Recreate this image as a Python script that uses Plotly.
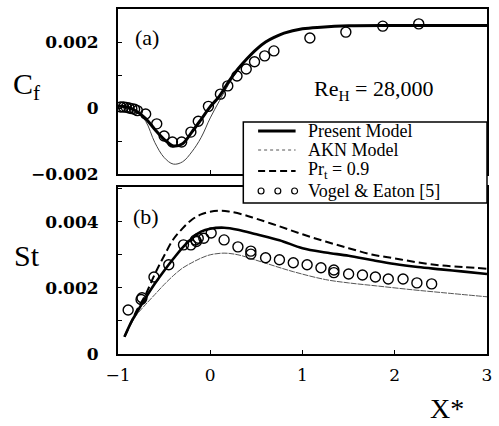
import plotly.graph_objects as go

# ---------------- data ----------------
# Panel (a): skin friction Cf vs X*
cf_present_x = [-1, -0.9, -0.8, -0.7, -0.6, -0.5, -0.4, -0.3, -0.2, -0.1, 0, 0.1, 0.2, 0.3, 0.4,
                0.5, 0.6, 0.7, 0.8, 1.0, 1.2, 1.5, 2.0, 2.5, 3.0]
cf_present_y = [0.00005, 0.00003, -0.0001, -0.00032, -0.00065, -0.00095, -0.00115, -0.00108,
                -0.00073, -0.00035, 0.00004, 0.00036, 0.0008, 0.00118, 0.0015, 0.00178, 0.002,
                0.00215, 0.00227, 0.0024, 0.00245, 0.00249, 0.0025, 0.0025, 0.0025]

cf_akn_x = [-1, -0.9, -0.8, -0.7, -0.6, -0.5, -0.4, -0.3, -0.2, -0.1, 0, 0.1, 0.2, 0.3, 0.4,
            0.5, 0.6, 0.7, 0.8, 1.0, 1.2, 1.5, 2.0, 2.5, 3.0]
cf_akn_y = [0.00005, 0.00002, -0.0001, -0.0004, -0.00105, -0.0015, -0.0017, -0.00163,
            -0.00133, -0.0009, -0.0003, 0.00022, 0.00072, 0.00115, 0.00148, 0.00178, 0.002,
            0.00215, 0.00227, 0.0024, 0.00245, 0.00249, 0.0025, 0.0025, 0.0025]

cf_exp_x = [-0.97, -0.94, -0.91, -0.88, -0.85, -0.82, -0.79, -0.70, -0.58, -0.50, -0.41, -0.31,
            -0.21, -0.13, -0.02, 0.11, 0.19, 0.29, 0.39, 0.48, 0.59, 0.69, 1.08, 1.47, 1.87, 2.26]
cf_exp_y = [0.00003, 0.00003, 0.00002, 0.0, -0.00002, -0.00004, -0.00008, -0.00018, -0.00048,
            -0.00085, -0.00103, -0.00103, -0.00073, -0.0004, 0.00005, 0.00042, 0.00067, 0.00097,
            0.00118, 0.0014, 0.00158, 0.00173, 0.00212, 0.0023, 0.00248, 0.00255]

# Panel (b): Stanton number St vs X*
st_present_x = [-0.93, -0.85, -0.8, -0.7, -0.6, -0.5, -0.4, -0.3, -0.2, -0.1, 0, 0.15, 0.3, 0.5,
                0.75, 1.0, 1.25, 1.5, 1.75, 2.0, 2.25, 2.5, 2.75, 3.0]
st_present_y = [0.00052, 0.001, 0.00124, 0.0017, 0.00213, 0.00252, 0.00288, 0.00322, 0.00349,
                0.0037, 0.00379, 0.00382, 0.00376, 0.00362, 0.00344, 0.0032, 0.00307, 0.00297,
                0.00284, 0.00272, 0.00263, 0.00256, 0.00249, 0.00242]

st_prt_x = [-0.93, -0.85, -0.8, -0.7, -0.6, -0.5, -0.4, -0.3, -0.2, -0.1, 0, 0.1, 0.2, 0.35,
            0.5, 0.75, 1.0, 1.25, 1.5, 1.75, 2.0, 2.25, 2.5, 2.75, 3.0]
st_prt_y = [0.00052, 0.001, 0.0013, 0.0018, 0.00242, 0.00297, 0.00347, 0.0038, 0.00406, 0.00422,
            0.0043, 0.00433, 0.00431, 0.00422, 0.00409, 0.00386, 0.00362, 0.0034, 0.0032,
            0.00301, 0.00289, 0.00277, 0.00268, 0.00263, 0.00258]

st_akn_x = [-0.93, -0.85, -0.8, -0.7, -0.6, -0.5, -0.4, -0.3, -0.2, -0.1, 0, 0.15, 0.3, 0.55,
            0.9, 1.25, 1.5, 1.8, 2.2, 2.5, 3.0]
st_akn_y = [0.00052, 0.00095, 0.00118, 0.0015, 0.0018, 0.0021, 0.00237, 0.0026, 0.00276, 0.0029,
            0.003, 0.00305, 0.003, 0.00279, 0.00249, 0.00225, 0.00215, 0.00206, 0.00194,
            0.00186, 0.00173]

st_exp_x = [-0.89, -0.74, -0.75, -0.61, -0.45, -0.29, -0.21, -0.16, -0.15, -0.13, -0.07, 0.01,
            0.15, 0.30, 0.44, 0.44, 0.60, 0.75, 0.90, 1.05, 1.20, 1.34, 1.34, 1.50, 1.65, 1.79,
            1.93, 2.09, 2.24, 2.40]
st_exp_y = [0.00133, 0.0017, 0.00165, 0.00233, 0.0027, 0.0033, 0.0033, 0.00345, 0.0034, 0.0035,
            0.0035, 0.00366, 0.00345, 0.00324, 0.00311, 0.00302, 0.00291, 0.00285, 0.00276,
            0.0027, 0.00261, 0.00254, 0.00246, 0.00242, 0.00239, 0.00233, 0.00227, 0.00227,
            0.00215, 0.00212]

cf_tickvals = [-0.002, 0, 0.002]
cf_ticktext = ["\u22120.002", "0", "0.002"]
st_tickvals = [0, 0.002, 0.004]
st_ticktext = ["0", "0.002", "0.004"]
x_tickvals = [-1, 0, 1, 2, 3]
x_ticktext = ["\u22121", "0", "1", "2", "3"]

legend_labels = ["Present Model", "AKN Model", "Pr<sub>t</sub> = 0.9", "Vogel &amp; Eaton [5]"]

# ---------------- layout helpers ----------------
W, H = 499, 426
PLOT_L, PLOT_R, PLOT_T, PLOT_B = 118, 492, 9, 354        # reference pixels
L, T = PLOT_L, PLOT_T
R = W - PLOT_R
B = H - PLOT_B
PW, PH = W - L - R, H - T - B


def px(x):
    return (x - PLOT_L) / PW


def py(y):
    return (PLOT_B - y) / PH


SERIF = "Liberation Serif"
BLACK = "black"

fig = go.Figure()

# panel (a)
fig.add_trace(go.Scatter(x=cf_akn_x, y=cf_akn_y, mode="lines", xaxis="x", yaxis="y",
                         line=dict(color="#444", width=1, shape="spline"), showlegend=False))
fig.add_trace(go.Scatter(x=cf_present_x, y=cf_present_y, mode="lines", xaxis="x", yaxis="y",
                         line=dict(color=BLACK, width=3, shape="spline"), showlegend=False))
fig.add_trace(go.Scatter(x=cf_exp_x, y=cf_exp_y, mode="markers", xaxis="x", yaxis="y",
                         marker=dict(symbol="circle-open", size=10, color=BLACK,
                                     line=dict(width=1.4, color=BLACK)), showlegend=False))

# panel (b)
fig.add_trace(go.Scatter(x=st_akn_x, y=st_akn_y, mode="lines", xaxis="x2", yaxis="y2",
                         line=dict(color="#555", width=1, shape="spline", dash="6px,1px"),
                         showlegend=False))
fig.add_trace(go.Scatter(x=st_prt_x, y=st_prt_y, mode="lines", xaxis="x2", yaxis="y2",
                         line=dict(color=BLACK, width=2, shape="spline", dash="8px,4px"),
                         showlegend=False))
fig.add_trace(go.Scatter(x=st_present_x, y=st_present_y, mode="lines", xaxis="x2", yaxis="y2",
                         line=dict(color=BLACK, width=2.6, shape="spline"), showlegend=False))
fig.add_trace(go.Scatter(x=st_exp_x, y=st_exp_y, mode="markers", xaxis="x2", yaxis="y2",
                         marker=dict(symbol="circle-open", size=10, color=BLACK,
                                     line=dict(width=1.4, color=BLACK)), showlegend=False))

axis_common = dict(showgrid=False, zeroline=False, showline=True, linecolor=BLACK, linewidth=2,
                   mirror=True, ticks="inside", tickcolor=BLACK, ticklen=4, tickwidth=1)

ytick_font = dict(family="DejaVu Serif", size=17, color=BLACK, weight="bold")
xtick_font = dict(family="DejaVu Serif", size=17, color=BLACK)

fig.update_layout(
    width=W, height=H,
    margin=dict(l=L, r=R, t=T, b=B, pad=0),
    paper_bgcolor="white", plot_bgcolor="white",
    showlegend=False,
    hovermode=False,
    xaxis=dict(domain=[0, 1], range=[-1, 3], anchor="y", tickvals=x_tickvals,
               showticklabels=False, **axis_common),
    yaxis=dict(domain=[py(174), 1], range=[-0.002, 0.003], anchor="x",
               tickvals=cf_tickvals, ticktext=cf_ticktext, tickfont=ytick_font,
               ticklabelstandoff=14,
               minor=dict(tickmode="linear", tick0=0, dtick=0.001, ticks="inside", ticklen=4,
                          tickcolor=BLACK), **axis_common),
    xaxis2=dict(domain=[0, 1], range=[-1, 3], anchor="y2", tickvals=x_tickvals,
                ticktext=x_ticktext, tickfont=xtick_font, ticklabelstandoff=5,
                ticklabeloverflow="allow", **axis_common),
    yaxis2=dict(domain=[0, py(187)], range=[0, 0.00505], anchor="x2",
                tickvals=st_tickvals, ticktext=st_ticktext, tickfont=ytick_font,
                ticklabelstandoff=14,
                minor=dict(tickmode="linear", tick0=0, dtick=0.001, ticks="inside", ticklen=4,
                           tickcolor=BLACK), **axis_common),
)

ann = []


def add_text(text, x, y, size, xanchor="center", family=SERIF):
    ann.append(dict(text=text, x=px(x), y=py(y), xref="paper", yref="paper",
                    xanchor=xanchor, yanchor="middle", showarrow=False,
                    font=dict(family=family, size=size, color=BLACK)))


add_text("(a)", 147, 37, 22)
add_text("(b)", 146, 216, 22)
add_text("Re<sub>H</sub> = 28,000", 377, 90, 22)
add_text("C<sub>f</sub>", 25, 86, 30)
add_text("St", 26, 256, 30)
add_text("X*", 451, 408, 28)

rows = [131, 150, 171, 191]
for lab, yy in zip(legend_labels, rows):
    add_text(lab, 309, yy, 18, xanchor="left")

shapes = []
# legend box
shapes.append(dict(type="rect", xref="paper", yref="paper", x0=px(245), x1=px(492),
                   y0=py(203), y1=py(122), fillcolor="white",
                   line=dict(color=BLACK, width=1.5), layer="above"))
# legend samples
shapes.append(dict(type="line", xref="paper", yref="paper", x0=px(260), x1=px(298),
                   y0=py(rows[0]), y1=py(rows[0]), line=dict(color=BLACK, width=3),
                   layer="above"))
shapes.append(dict(type="line", xref="paper", yref="paper", x0=px(260), x1=px(298),
                   y0=py(rows[1]), y1=py(rows[1]), line=dict(color="#555", width=1, dash="dot"),
                   layer="above"))
shapes.append(dict(type="line", xref="paper", yref="paper", x0=px(260), x1=px(298),
                   y0=py(rows[2]), y1=py(rows[2]), line=dict(color=BLACK, width=2, dash="7px,4px"),
                   layer="above"))
for cx in (263, 280, 297):
    shapes.append(dict(type="circle", xref="paper", yref="paper", x0=px(cx - 3),
                       x1=px(cx + 3), y0=py(rows[3] + 3), y1=py(rows[3] - 3),
                       line=dict(color=BLACK, width=1.2), layer="above"))

fig.update_layout(annotations=ann, shapes=shapes)
# remove the default 8 px page margin so the figure fills the 499x426 window exactly
fig.write_html("out.html", config={"displayModeBar": False, "staticPlot": True},
               post_script="document.body.style.margin='0';")
